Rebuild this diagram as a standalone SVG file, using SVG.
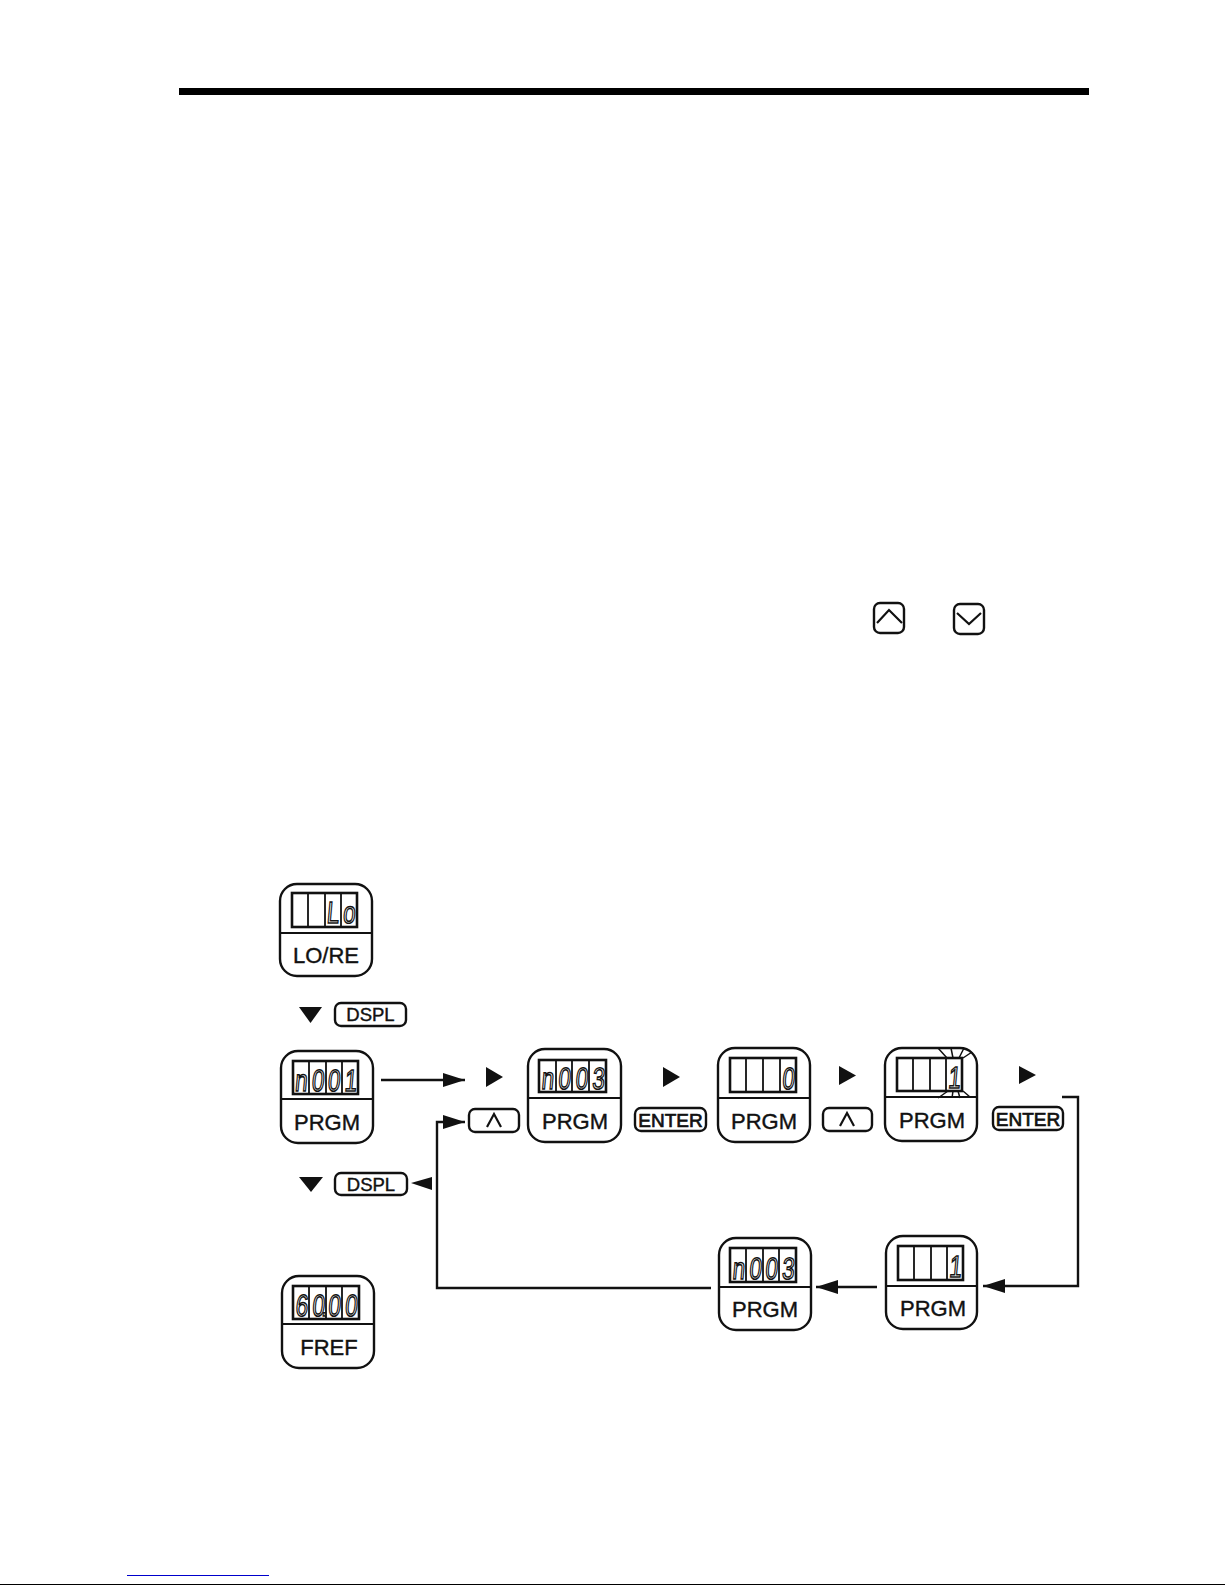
<svg xmlns="http://www.w3.org/2000/svg" width="1225" height="1585" viewBox="0 0 1225 1585">
<style>
text{font-family:"Liberation Sans",Arial,sans-serif;fill:#111;text-anchor:middle;stroke:#111;stroke-width:.4}
.box{fill:#fff;stroke:#111;stroke-width:2.4}
.ln{fill:none;stroke:#111;stroke-width:1.8}
.disp{fill:#fff;stroke:#111;stroke-width:2.6}
.lbl{font-size:22px}
.btn{font-size:18.500px}
.ent{font-size:19px;stroke-width:.7}
text.dig{font-size:36px;fill:#fff;stroke:#111;stroke-width:1.8;opacity:.99}
.chev{fill:none;stroke:#111;stroke-width:2.2}
.conn{fill:none;stroke:#111;stroke-width:2.4}
.tri{fill:#111}
.tick{fill:none;stroke:#111;stroke-width:1.5}
</style>
<defs>
<marker id="head" markerUnits="userSpaceOnUse" markerWidth="22" markerHeight="14" refX="22" refY="7" orient="auto"><path d="M0 0L22 7L0 14Z" fill="#111"/></marker>
</defs>
<rect width="1225" height="1585" fill="#fff"/>
<rect id="top-rule" x="179" y="88" width="910" height="7" fill="#000"/>
<g id="icon-up"><rect class="box" x="874" y="603" width="30" height="30" rx="6"/><path class="chev" d="M877 623L889 610L902 623"/></g>
<g id="icon-down"><rect class="box" x="954" y="604" width="30" height="30" rx="6"/><path class="chev" d="M957 613L969 624L981 613"/></g>

<g id="connectors">
<path class="conn" d="M381 1080H465" marker-end="url(#head)"/>
<path class="conn" d="M711 1288H437V1122H465" marker-end="url(#head)"/>
<path class="conn" d="M1062 1097H1078V1286H983" marker-end="url(#head)"/>
<path class="conn" d="M877 1287H816" marker-end="url(#head)"/>
<polygon class="tri" points="411,1183 432,1177 432,1190"/>
</g>

<g id="node-lore">
<rect class="box" x="280" y="884" width="92" height="92" rx="17"/><path class="ln" d="M280 933H372"/>
<rect class="disp" x="292" y="893" width="65" height="34"/><path class="ln" d="M308 893V927M325 893V927M341 893V927"/>
<text class="dig" transform="translate(324.500 923) skewX(-5) scale(.62 .85)" x="13 39">Lo</text>
<text class="lbl" x="326" y="963">LO/RE</text>
</g>
<g id="step-dspl-1"><polygon class="tri" points="299,1007 322,1007 310.500,1023"/><rect class="box" x="335" y="1003" width="71" height="23" rx="6"/><text class="btn" x="370.500" y="1021">DSPL</text></g>

<g id="node-n001">
<rect class="box" x="281" y="1051" width="92" height="92" rx="17"/><path class="ln" d="M281 1099H373"/>
<rect class="disp" x="293" y="1061" width="65" height="33"/><path class="ln" d="M309 1061V1094M326 1061V1094M342 1061V1094"/>
<text class="dig" transform="translate(325.500 1090.500) skewX(-5) scale(.62 .85)" x="-40 -13 13 40">n001</text>
<text class="lbl" x="327" y="1130">PRGM</text>
</g>
<polygon id="tri-1" class="tri" points="486,1067 503,1077 486,1087"/>
<g id="step-up-1"><rect class="box" x="469" y="1109" width="50" height="23" rx="6"/><path class="chev" d="M487 1127L494 1114L501 1127"/></g>

<g id="node-n003">
<rect class="box" x="528" y="1049" width="93" height="93" rx="17"/><path class="ln" d="M528 1098H621"/>
<rect class="disp" x="539" y="1060" width="67" height="32"/><path class="ln" d="M556 1060V1092M572 1060V1092M589 1060V1092"/>
<text class="dig" transform="translate(572.500 1088.500) skewX(-5) scale(.62 .85)" x="-41 -14 14 41">n003</text>
<text class="lbl" x="575" y="1129">PRGM</text>
</g>
<polygon id="tri-2" class="tri" points="663,1067 680,1077 663,1087"/>
<g id="step-enter-1"><rect class="box" x="635" y="1108" width="71" height="23" rx="6"/><text class="ent" x="670.500" y="1127">ENTER</text></g>

<g id="node-0">
<rect class="box" x="718" y="1048" width="92" height="94" rx="17"/><path class="ln" d="M718 1098H810"/>
<rect class="disp" x="730" y="1058" width="66" height="34"/><path class="ln" d="M746 1058V1092M763 1058V1092M780 1058V1092"/>
<text class="dig" transform="translate(788 1088.500) skewX(-5) scale(.62 .85)">0</text>
<text class="lbl" x="764" y="1129">PRGM</text>
</g>
<polygon id="tri-3" class="tri" points="839,1066 856,1075.500 839,1085"/>
<g id="step-up-2"><rect class="box" x="823" y="1108" width="49" height="23" rx="6"/><path class="chev" d="M840 1126L847 1113L854 1126"/></g>

<g id="node-1-flash">
<rect class="box" x="885" y="1048" width="92" height="93" rx="17"/><path class="ln" d="M885 1097H977"/>
<rect class="disp" x="897" y="1058" width="65" height="33"/><path class="ln" d="M913 1058V1091M930 1058V1091M946 1058V1091"/>
<text class="dig" transform="translate(954 1087.500) skewX(-5) scale(.62 .85)">1</text>
<path class="tick" d="M947 1058L938 1048M953 1058L951 1048M959 1058L964 1048M963 1058L972 1052M948 1091L938 1098M953 1091L952 1098M958 1091L960 1098M963 1091L970 1097"/>
<text class="lbl" x="932" y="1128">PRGM</text>
</g>
<polygon id="tri-4" class="tri" points="1019,1066 1036,1075 1019,1084"/>
<g id="step-enter-2"><rect class="box" x="993" y="1107" width="70" height="23" rx="6"/><text class="ent" x="1028" y="1126">ENTER</text></g>

<g id="node-1">
<rect class="box" x="886" y="1236" width="91" height="93" rx="17"/><path class="ln" d="M886 1286H977"/>
<rect class="disp" x="898" y="1246" width="65" height="34"/><path class="ln" d="M914 1246V1280M931 1246V1280M947 1246V1280"/>
<text class="dig" transform="translate(955 1276.500) skewX(-5) scale(.62 .85)">1</text>
<text class="lbl" x="933" y="1316">PRGM</text>
</g>
<g id="node-n003-b">
<rect class="box" x="719" y="1238" width="92" height="92" rx="17"/><path class="ln" d="M719 1287H811"/>
<rect class="disp" x="730" y="1248" width="66" height="34"/><path class="ln" d="M746 1248V1282M763 1248V1282M779 1248V1282"/>
<text class="dig" transform="translate(763 1278.500) skewX(-5) scale(.62 .85)" x="-40 -13 13 40">n003</text>
<text class="lbl" x="765" y="1317">PRGM</text>
</g>

<g id="step-dspl-2"><polygon class="tri" points="299,1177 323,1177 311,1192"/><rect class="box" x="335" y="1173" width="72" height="22" rx="6"/><text class="btn" x="371" y="1190.500">DSPL</text></g>

<g id="node-fref">
<rect class="box" x="282" y="1276" width="92" height="92" rx="17"/><path class="ln" d="M282 1324H374"/>
<rect class="disp" x="293" y="1286" width="66" height="33"/><path class="ln" d="M309 1286V1319M326 1286V1319M342 1286V1319"/>
<text class="dig" transform="translate(326 1315.500) skewX(-5) scale(.62 .85)" x="-40 -13 -3 13 40">60.00</text>
<text class="lbl" x="329" y="1355">FREF</text>
</g>

<rect id="blue-rule" x="127" y="1575" width="142" height="1" fill="#00c"/>
<rect id="bottom-rule" x="0" y="1584" width="1225" height="1" fill="#000"/>
</svg>
